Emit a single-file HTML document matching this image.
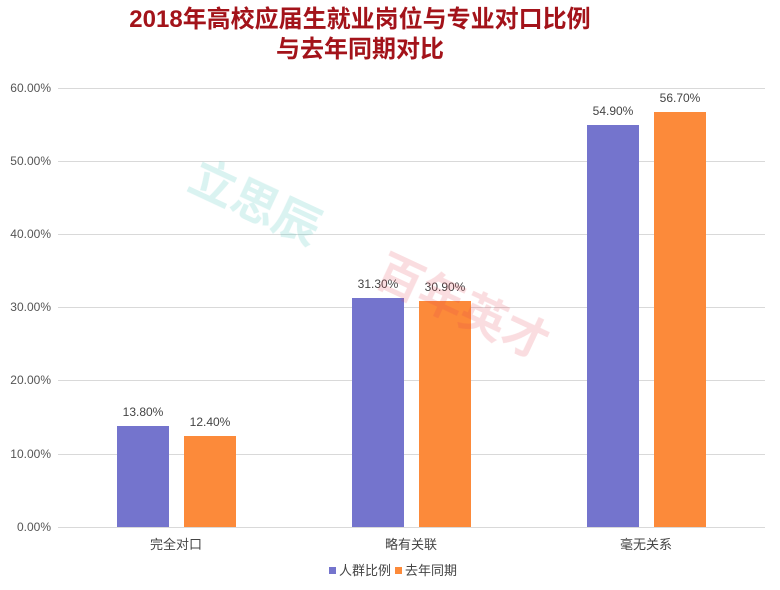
<!DOCTYPE html>
<html><head><meta charset="utf-8">
<style>
html,body{margin:0;padding:0;background:#fff;}
svg{display:block;}
text{font-family:"Liberation Sans","Noto Sans CJK SC",sans-serif;}
</style></head><body>
<svg width="780" height="590" viewBox="0 0 780 590" xmlns="http://www.w3.org/2000/svg">
<text x="360" y="27" text-anchor="middle" font-size="24" font-weight="bold" fill="#a3131a">2018年高校应届生就业岗位与专业对口比例</text>
<text x="360" y="57" text-anchor="middle" font-size="24" font-weight="bold" fill="#a3131a">与去年同期对比</text>
<g stroke="#d9d9d9" stroke-width="1">
<line x1="58" x2="765" y1="88.5" y2="88.5"/>
<line x1="58" x2="765" y1="161.5" y2="161.5"/>
<line x1="58" x2="765" y1="234.5" y2="234.5"/>
<line x1="58" x2="765" y1="307.5" y2="307.5"/>
<line x1="58" x2="765" y1="380.5" y2="380.5"/>
<line x1="58" x2="765" y1="454.5" y2="454.5"/>
<line x1="58" x2="765" y1="527.5" y2="527.5"/>
</g>
<g font-size="12" fill="#555" text-anchor="end">
<text x="51" y="92">60.00%</text>
<text x="51" y="165">50.00%</text>
<text x="51" y="238">40.00%</text>
<text x="51" y="311">30.00%</text>
<text x="51" y="384">20.00%</text>
<text x="51" y="458">10.00%</text>
<text x="51" y="531">0.00%</text>
</g>
<g fill="#7474cd">
<rect x="117" y="426" width="52" height="101"/>
<rect x="352" y="298" width="52" height="229"/>
<rect x="587" y="125" width="52" height="402"/>
</g>
<g fill="#fc8a3a">
<rect x="184" y="436" width="52" height="91"/>
<rect x="419" y="301" width="52" height="226"/>
<rect x="654" y="112" width="52" height="415"/>
</g>
<g font-size="12" fill="#444" text-anchor="middle">
<text x="143" y="416">13.80%</text>
<text x="210" y="426">12.40%</text>
<text x="378" y="288">31.30%</text>
<text x="445" y="291">30.90%</text>
<text x="613" y="115">54.90%</text>
<text x="680" y="102">56.70%</text>
</g>
<g font-size="13" fill="#444" text-anchor="middle">
<text x="176" y="549">完全对口</text>
<text x="411" y="549">略有关联</text>
<text x="646" y="549">毫无关系</text>
</g>
<rect x="329" y="567" width="7" height="7" fill="#7474cd"/>
<text x="339" y="575" font-size="13" fill="#444">人群比例</text>
<rect x="395" y="567" width="7" height="7" fill="#fc8a3a"/>
<text x="405" y="575" font-size="13" fill="#444">去年同期</text>
<g opacity="0.18" font-weight="bold" font-size="46">
<text x="170" y="220" fill="#30b8b0" transform="rotate(25 250 240)">立思辰</text>
<text x="360" y="320" fill="#e04050" transform="rotate(25 450 330)">百年英才</text>
</g>
</svg>
</body></html>
